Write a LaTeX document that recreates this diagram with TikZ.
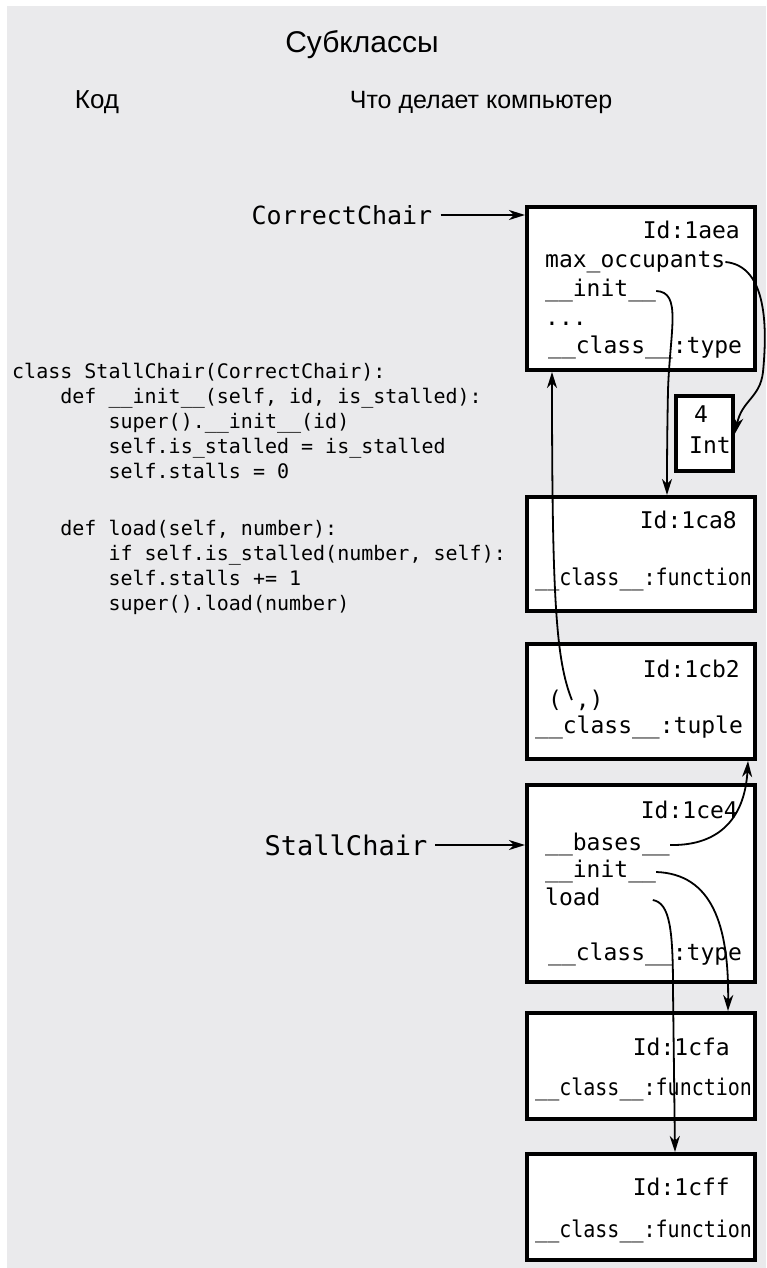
\documentclass[tikz,border=0pt]{standalone}
\usepackage{fontspec}
\setmainfont{Liberation Sans}
\setmonofont{DejaVu Sans Mono}
\usetikzlibrary{arrows.meta,positioning}
\definecolor{paper}{RGB}{234,234,236}
\newcommand{\tb}{\phantom{0000}}
\newcommand{\fnclass}{\scalebox{0.87}[1]{\_\_class\_\_:function}}

\begin{document}
\begin{tikzpicture}[x=1pt,y=-1pt,>={Stealth[length=16pt,width=10pt,inset=5pt]},
    obj/.style={draw,line width=4pt,fill=white,inner sep=0pt,minimum width=228pt},
    slot/.style={font=\ttfamily\fontsize{23}{29}\selectfont,inner sep=0pt,text height=17pt,text depth=6pt,anchor=west},
    oid/.style={slot,anchor=east},
    ref/.style={line width=1.8pt,->},
    head/.style={font=\fontsize{26}{30}\selectfont},
    lbl/.style={font=\ttfamily\fontsize{25}{30}\selectfont,inner sep=8pt}]
   \useasboundingbox (0,0) rectangle (766,1268);
   \fill[paper] (7,6) rectangle (766,1268);

   % headings
   \node[head,font=\fontsize{30}{34}\selectfont] (title) at (362,45) {Субклассы};
   \node[head] (code) at (97,102) {Код};
   \node[head,font=\fontsize{25}{30}\selectfont] (comp) at (481,102) {Что делает компьютер};

   % source
   \node[font=\ttfamily\fontsize{20}{25}\selectfont,align=left,anchor=north west,inner sep=0pt] (src) at (12,363) {%
      class StallChair(CorrectChair):\\
      \tb def \_\_init\_\_(self, id, is\_stalled):\\
      \tb\tb super().\_\_init\_\_(id)\\
      \tb\tb self.is\_stalled = is\_stalled\\
      \tb\tb self.stalls = 0\\[32pt]
      \tb def load(self, number):\\
      \tb\tb if self.is\_stalled(number, self):\\
      \tb\tb self.stalls += 1\\
      \tb\tb super().load(number)};

   % objects
   \node[obj,minimum height=163pt] (c1aea) at (641,288.5) {};
   \node[obj,minimum width=57pt,minimum height=75pt] (int4) at (704.5,433.5) {};
   \node[obj,minimum height=114pt] (f1ca8) at (641,554) {};
   \node[obj,minimum height=115pt] (t1cb2) at (641,701.5) {};
   \node[obj,minimum height=197pt] (c1ce4) at (641,883.5) {};
   \node[obj,minimum height=106pt] (f1cfa) at (641,1066) {};
   \node[obj,minimum height=106pt] (f1cff) at (641,1207) {};

   \node[oid] (id1) at (740,233) {Id:1aea};
   \node[slot] (maxocc) at (545,262) {max\_occupants};
   \node[slot] (init1) at (545,291) {\_\_init\_\_};
   \node[slot] (dots) at (545,320) {...};
   \node[slot] (cls1) at (548,348) {\_\_class\_\_:type};

   \node[slot,anchor=center] (four) at (701,417) {4};
   \node[slot,anchor=center] (intname) at (710,448) {Int};

   \node[oid] (id2) at (737,523) {Id:1ca8};
   \node[slot] (cls2) at (535,580) {\fnclass};

   \node[oid] (id3) at (740,672) {Id:1cb2};
   \node[slot] (tup) at (548,702) {( ,)};
   \node[slot] (cls3) at (535,728) {\_\_class\_\_:tuple};

   \node[oid] (id4) at (738,813) {Id:1ce4};
   \node[slot] (bases) at (545,845) {\_\_bases\_\_};
   \node[slot] (init2) at (545,872) {\_\_init\_\_};
   \node[slot] (load) at (545,900) {load};
   \node[slot] (cls4) at (548,955) {\_\_class\_\_:type};

   \node[oid] (id5) at (730,1050) {Id:1cfa};
   \node[slot] (cls5) at (535,1090) {\fnclass};

   \node[oid] (id6) at (730,1190) {Id:1cff};
   \node[slot] (cls6) at (535,1232) {\fnclass};

   % names
   \node[lbl] (cc) at (342,215) {CorrectChair};
   \node[lbl,font=\ttfamily\fontsize{27}{30}\selectfont] (sc) at (346,845) {StallChair};

   \path[ref]
    (cc) edge (cc -| c1aea.west)
    (sc) edge (sc -| c1ce4.west)
    ;

   % references
   \draw[ref] (maxocc.east) .. controls (768,266) and (767,330) .. (763,372)
      .. controls (760,398) and (742,400) .. (int4.east);
   \draw[ref] (init1.east) .. controls (682,292) and (670,330) .. (668,390)
      .. controls (667,440) and (667,470) .. ([xshift=26pt]f1ca8.north);
   \draw[ref] ([xshift=-4pt,yshift=2pt]tup.center) .. controls (556,660) and (552,600) .. ([xshift=-89pt]c1aea.south);
   \draw[ref] (bases.east) .. controls (722,846) and (745,815) .. ([xshift=107pt]t1cb2.south);
   \draw[ref] (init2.east) .. controls (712,874) and (729,925) .. ([xshift=87pt]f1cfa.north);
   \draw[ref] ([xshift=52pt]load.east) .. controls (670,903) and (673,930) .. (673,990)
      -- ([xshift=34pt]f1cff.north);
\end{tikzpicture}
\end{document}
